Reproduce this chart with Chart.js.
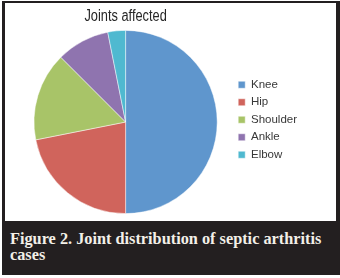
<!DOCTYPE html>
<html>
<head>
<meta charset="utf-8">
<script src="https://cdn.jsdelivr.net/npm/chart.js@4"></script>
<style>
  html, body { margin: 0; padding: 0; background: #fff; }
  #frame { position: absolute; left: 2px; top: 1px; width: 338px; height: 274px; background: #231f20; }
  #panel { position: absolute; left: 2.5px; top: 2.3px; width: 331px; height: 218px; background: #fff; }
  #caption { position: absolute; left: 8px; top: 230px; width: 330px; color: #f3f0e8;
    font: bold 16.3px "Liberation Serif", serif; line-height: 16px; }
</style>
</head>
<body>
<div id="frame">
  <div id="panel"><canvas id="pie_0" width="331" height="218"></canvas></div>
  <div id="caption">Figure 2. Joint distribution of septic arthritis<br>cases</div>
</div>
<script>
const chartTitle = 'Joints affected'
const joints = ['Knee', 'Hip', 'Shoulder', 'Ankle', 'Elbow']
const cases = [16, 7, 5, 3, 1]
const sliceColors = ['#5f96cd', '#d0645c', '#a8c468', '#8f74af', '#4fb9d0']

// title centred over the pie (not over the whole canvas), narrow like Arial Narrow
const pieTitle = {
  id: 'pieTitle',
  afterDraw(chart) {
    const ctx = chart.ctx
    const a = chart.chartArea
    ctx.save()
    ctx.translate((a.left + a.right) / 2, 14)
    ctx.scale(0.8, 1)
    ctx.font = '16px "Liberation Sans", sans-serif'
    ctx.fillStyle = '#262626'
    ctx.textAlign = 'center'
    ctx.textBaseline = 'middle'
    ctx.fillText(chartTitle, 0, 0)
    ctx.restore()
  }
}

let pie = new Chart(document.getElementById('pie_0'), {
  type: 'pie',
  data: {
    labels: joints,
    datasets: [{
      data: cases,
      backgroundColor: sliceColors,
      borderColor: 'rgba(255,255,255,0.6)',
      borderWidth: 0.8
    }]
  },
  options: {
    responsive: false,
    animation: false,
    layout: { padding: { left: 14, right: 29, top: 27, bottom: 7 } },
    plugins: {
      legend: {
        position: 'right',
        align: 'start',
        // empty title only used as a spacer to push the items down
        title: { display: true, text: ' ', font: { size: 10 }, padding: { top: 31, bottom: 0 } },
        labels: {
          boxWidth: 7,
          boxHeight: 7,
          padding: 6,
          color: '#383838',
          font: { family: '"Liberation Sans", sans-serif', size: 11.5 }
        }
      },
      tooltip: { enabled: false }
    }
  },
  plugins: [pieTitle]
})
</script>
</body>
</html>
